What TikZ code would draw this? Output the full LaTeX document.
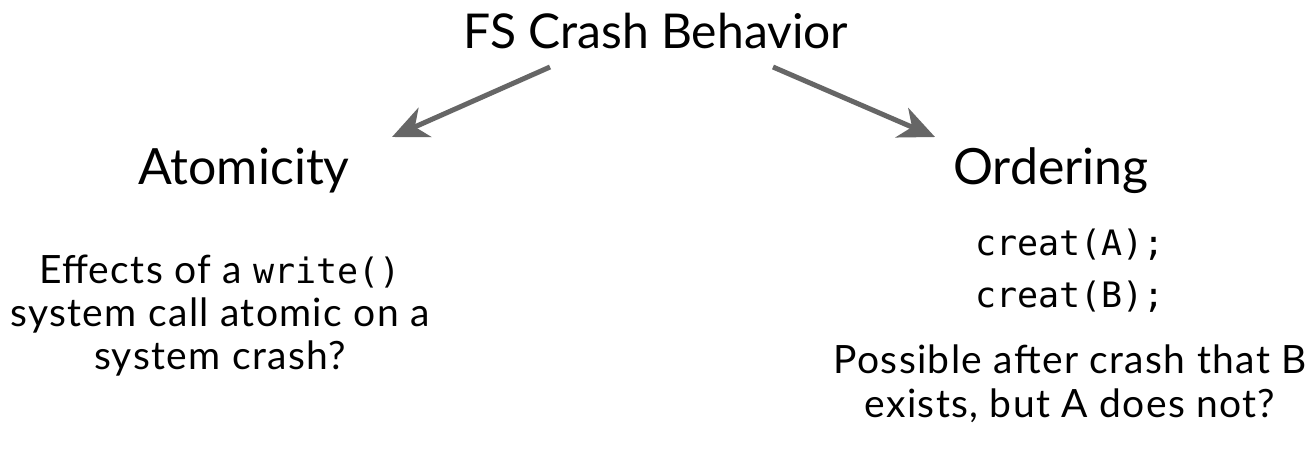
\documentclass[tikz,border=0pt]{standalone}
\usepackage{fontspec}
\setmainfont{Lato}
\newfontfamily\monofont{DejaVu Sans Mono}
\newfontfamily\bodyfont[LetterSpace=3.5]{Lato}
\usetikzlibrary{arrows.meta}
\definecolor{arrowgray}{HTML}{666666}
\tikzset{
  txt/.style={inner sep=0pt, anchor=base, text=black},
  title/.style={txt, font=\fontsize{48}{52}\selectfont},
  head/.style={txt, font=\fontsize{50}{54}\selectfont},
  body/.style={txt, font=\bodyfont\fontsize{39}{45}\selectfont},
  code/.style={txt, font=\monofont\fontsize{35}{40}\selectfont},
  branch/.style={draw=arrowgray, line width=5pt,
    -{Stealth[length=36pt,width=32pt,inset=11pt]}}
}
\begin{document}
\begin{tikzpicture}[x=1pt,y=-1pt]
\useasboundingbox[fill=white] (0,0) rectangle (1308,456);
\node[title] (t) at (656,48) {FS Crash Behavior};
\node[head] (at) at (244,184) {Atomicity};
\node[head] (or) at (1051,184) {Ordering};
\coordinate (ls) at (550,67);
\coordinate (le) at (392,137);
\coordinate (rs) at (773,67);
\coordinate (re) at (935,137);
\draw[branch] (ls) -- (le);
\draw[branch] (rs) -- (re);
\node[body] (a1) at (220,283) {Effects of a {\monofont\fontsize{35}{40}\selectfont write()}};
\node[body] (a2) at (220,326) {system call atomic on a};
\node[body] (a3) at (220,369) {system crash?};
\node[code] (o1) at (1070,255) {creat(A);};
\node[code] (o2) at (1070,307) {creat(B);};
\node[body] (o3) at (1070,373) {Possible after crash that B};
\node[body] (o4) at (1070,417) {exists, but A does not?};
\end{tikzpicture}
\end{document}
